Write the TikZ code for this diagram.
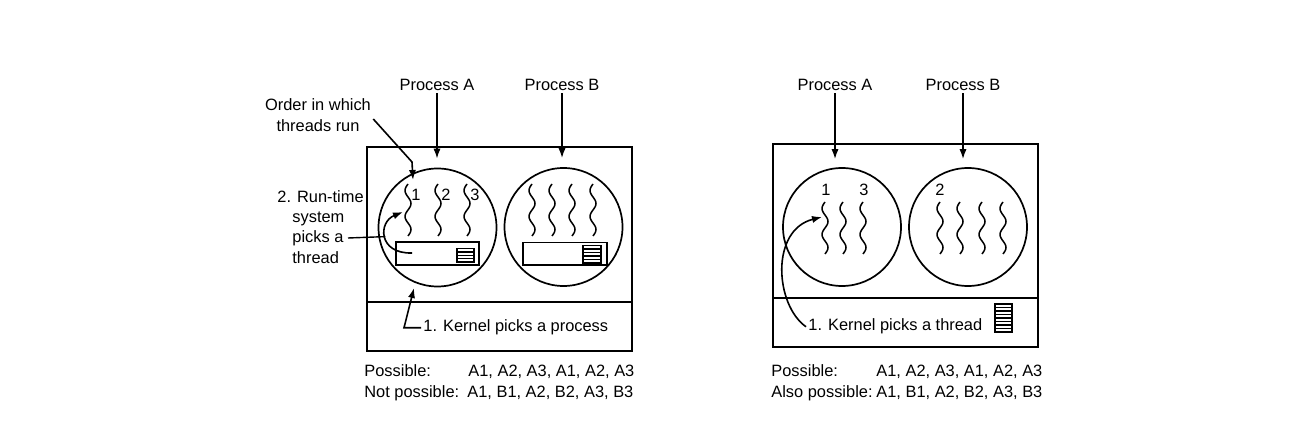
\documentclass[tikz,border=0pt]{standalone}
\usepackage{fontspec}
\setmainfont{Liberation Sans}
\usetikzlibrary{arrows.meta,calc,positioning}

\begin{document}
\begin{tikzpicture}[
    x=0.5pt, y=-0.5pt,
    font=\fontsize{8.2}{10.15}\selectfont,
    box/.style={draw, line width=0.85pt},
    proc/.style={draw, circle, line width=0.85pt, minimum size=59pt, inner sep=0pt},
    lbl/.style={inner sep=1pt},
    arr/.style={-{Latex[length=5pt,width=3.6pt]}, line width=0.8pt},
    thin line/.style={line width=0.7pt},
    thread/.pic={\draw[line width=0.75pt] plot[smooth, samples=41, domain=0:720, variable=\t]
        ({-3*sin(\t)}, {\t/13.85});},
  ]
\useasboundingbox (0,0) rectangle (1305,432);

% ============================ (a) user-level threads ======================
\begin{scope}

  % ---- kernel box ---------------------------------------------------------
  \draw[box] (367,147) rectangle (632,351);
  \draw[box] (367,302) -- (632,302);

  % ---- processes ----------------------------------------------------------
  \node[proc] (pA) at (437.5,227.5) {};
  \node[proc] (pB) at (563.5,227) {};
  \node[lbl] (labA) at (437,85) {Process A};
  \node[lbl] (labB) at (562,85) {Process B};
  \draw[arr, shorten >=4.5pt] (labA.south) -- (labA.south |- pA.north);
  \draw[arr, shorten >=4.5pt] (labB.south) -- (labB.south |- pB.north);

  % ---- threads ------------------------------------------------------------
  \foreach \tx/\n in {408/1, 438/2, 467/3} {
    \pic at (\tx,184) {thread};
    \node[lbl] (tA\n) at (\tx+8,195) {\n};
  }
  \foreach \tx in {532, 552, 572, 593}
    \pic at (\tx,184) {thread};

  % ---- run-time tables ----------------------------------------------------
  \draw[box] (396,242) rectangle (479,265);
  \draw[thin line] (457,248.5) rectangle (474,262);
  \foreach \yy in {251.9, 255.3, 258.6}
    \draw[thin line] (457,\yy) -- (474,\yy);
  \draw[box] (523,242.5) rectangle (607,265);
  \draw[thin line] (583,245.5) rectangle (601,263);
  \foreach \yy in {249, 252.5, 256, 259.5}
    \draw[thin line] (583,\yy) -- (601,\yy);

  % ---- order in which threads run ------------------------------------------
  \node[lbl, align=center] (order) at (318,115) {Order in which\\threads run};
  \coordinate (tA1top) at (413,180);
  \draw[arr] ([yshift=-2pt]order.east) -- (412,162) -- (tA1top);

  % ---- run-time system picks a thread --------------------------------------
  \node[lbl, align=left, anchor=north west] (rts) at (275,188)
        {2. Run-time\\\hspace*{7.5pt}system\\\hspace*{7.5pt}picks a\\\hspace*{7.5pt}thread};
  \coordinate (pk) at (348,238);
  \coordinate (rt0) at (412,253);
  \coordinate (tA1mid) at (403,212);
  \draw[arr] (rt0) .. controls (378,254) and (378,222) .. (tA1mid)
        coordinate[pos=0.5] (rtmid);
  \draw[thin line] (pk) -- (rtmid);

  % ---- kernel picks a process ----------------------------------------------
  \node[lbl, anchor=base west] (kp) at (421,332) {1. Kernel picks a process};
  \coordinate (pAbot) at (414,288);
  \draw[arr] (kp.west) -- ++(-17,0) -- (pAbot);

  % ---- sequences ----------------------------------------------------------
  \node[lbl, anchor=base west] (pos1) at (362,377) {Possible:};
  \node[lbl, anchor=base west] (seq1) at (466,377) {A1, A2, A3, A1, A2, A3};
  \node[lbl, anchor=base west] (npos1) at (362,397) {Not possible:};
  \node[lbl, anchor=base west] (seq2) at (465,397) {A1, B1, A2, B2, A3, B3};
\end{scope}

% ============================ (b) kernel-level threads ====================
\begin{scope}

  % ---- kernel box ---------------------------------------------------------
  \draw[box] (773,144) rectangle (1038,347);
  \draw[box] (773,298) -- (1038,298);

  % ---- processes ----------------------------------------------------------
  \node[proc] (rA) at (842,227) {};
  \node[proc] (rB) at (968,227) {};
  \node[lbl] (rlabA) at (835,85) {Process A};
  \node[lbl] (rlabB) at (963,85) {Process B};
  \draw[arr, shorten >=4pt] (rlabA.south) -- (rlabA.south |- rA.north);
  \draw[arr, shorten >=4pt] (rlabB.south) -- (rlabB.south |- rB.north);

  % ---- threads ------------------------------------------------------------
  \foreach \tx in {825, 843, 863, 940, 960, 982, 1003}
    \pic at (\tx,202) {thread};
  \node[lbl] (rt1) at (826,190) {1};
  \node[lbl] (rt3) at (864,190) {3};
  \node[lbl] (rt2) at (940,190) {2};

  % ---- kernel thread table -------------------------------------------------
  \draw[thin line] (995,304) rectangle (1012,332);
  \foreach \yy in {307.5, 311, 314.5, 318, 321.5, 325, 328.5}
    \draw[thin line] (995,\yy) -- (1012,\yy);

  % ---- kernel picks a thread -----------------------------------------------
  \node[lbl, anchor=base west] (kt) at (806,331) {1. Kernel picks a thread};
  \coordinate (rA1) at (822,217);
  \draw[arr] (kt.west) .. controls (775,305) and (770,230) .. (rA1);

  % ---- sequences ----------------------------------------------------------
  \node[lbl, anchor=base west] (pos2) at (769,377) {Possible:};
  \node[lbl, anchor=base west] (seq3) at (874,377) {A1, A2, A3, A1, A2, A3};
  \node[lbl, anchor=base west] (apos2) at (769,397) {Also possible:};
  \node[lbl, anchor=base west] (seq4) at (874,397) {A1, B1, A2, B2, A3, B3};
\end{scope}

\end{tikzpicture}
\end{document}
